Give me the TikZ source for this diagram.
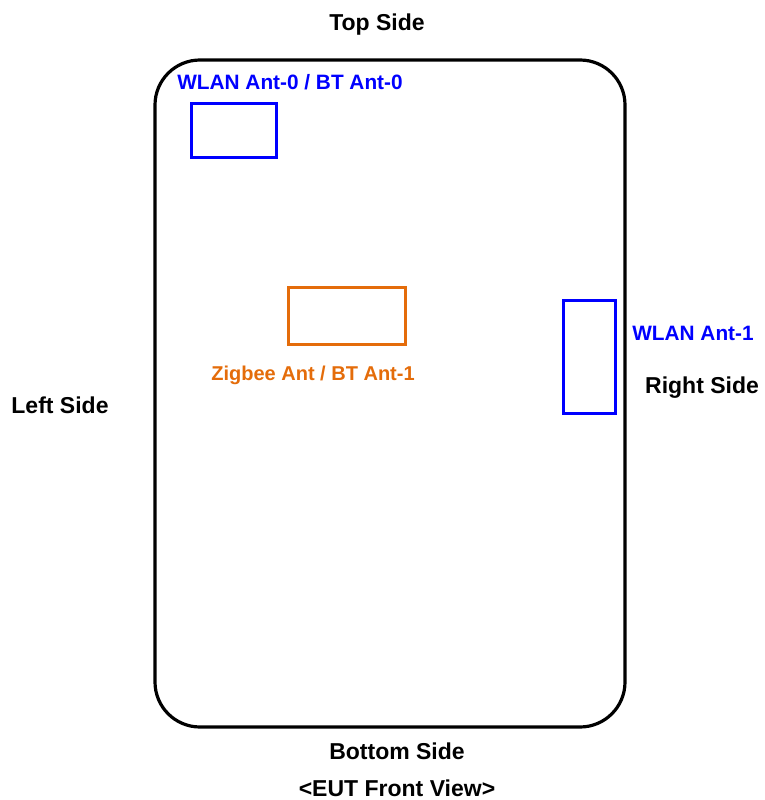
\documentclass[tikz,border=0pt]{standalone}
\usepackage{fontspec}
\setmainfont{Liberation Sans}
\usepackage{tikz}
\usetikzlibrary{positioning}
\definecolor{antorange}{RGB}{228,108,10}

\begin{document}
\begin{tikzpicture}[x=1pt,y=-1pt,
  side/.style={font=\bfseries\fontsize{23}{27}\selectfont,text=black,inner sep=0pt},
  antlabel/.style={font=\bfseries\fontsize{20.8}{24}\selectfont,inner sep=0pt},
  antbox/.style={draw,line width=3pt,inner sep=0pt}]
\useasboundingbox (0,0) rectangle (765,800);
% device outline
\draw[line width=3.2pt,rounded corners=45pt] (155,60) rectangle (625,727);
% antennas
\node[antbox,blue,minimum width=85pt,minimum height=54pt] (ant0) at (233.5,130) {};
\node[antbox,antorange,minimum width=117pt,minimum height=57pt] (zig) at (346.5,315.5) {};
\node[antbox,blue,minimum width=52pt,minimum height=113pt] (ant1) at (589,356.5) {};
\node[antlabel,text=blue] (ant0lbl) at (290,82) {WLAN Ant-0 / BT Ant-0};
\node[antlabel,text=antorange,font=\bfseries\fontsize{20}{24}\selectfont] (ziglbl) at (313,375) {Zigbee Ant / BT Ant-1};
\node[antlabel,text=blue] (ant1lbl) at (693,333) {WLAN Ant-1};
% sides
\node[side] (top) at (377,25) {Top Side};
\node[side] (left) at (60,405) {Left Side};
\node[side] (right) at (702,388) {Right Side};
\node[side] (bottom) at (397,751) {Bottom Side};
\node[side] (view) at (397,788) {<EUT Front View>};
\end{tikzpicture}
\end{document}
